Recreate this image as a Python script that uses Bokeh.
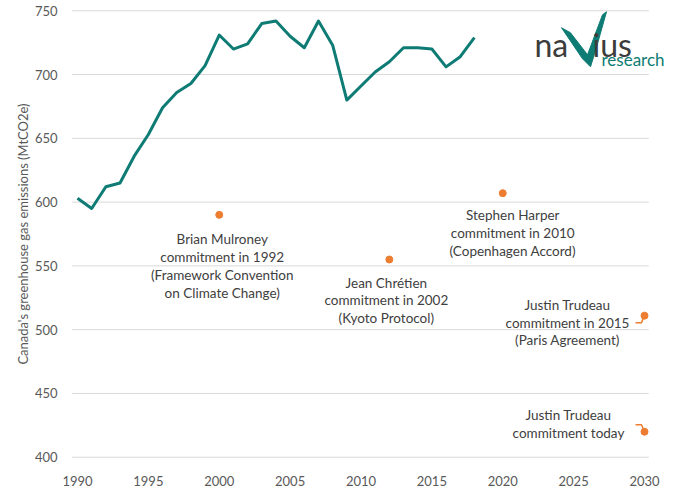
from bokeh.plotting import figure
from bokeh.models import Range1d, ColumnDataSource, Label, FixedTicker
from bokeh.core.properties import value
from bokeh.embed import file_html
from bokeh.resources import INLINE

# Emissions history (MtCO2e)
years = list(range(1990, 2019))
emissions = [603, 595, 612, 615, 636, 653, 674, 686, 693, 707,
             731, 720, 724, 740, 742, 730, 721, 742, 723, 680,
             691, 702, 710, 721, 721, 720, 706, 714, 729]

# Commitments
commit_year = [2000, 2012, 2020, 2030, 2030]
commit_value = [590, 555, 607, 511, 420]
commit_label = [
    "Brian Mulroney\ncommitment in 1992\n(Framework Convention\non Climate Change)",
    "Jean Chrétien\ncommitment in 2002\n(Kyoto Protocol)",
    "Stephen Harper\ncommitment in 2010\n(Copenhagen Accord)",
    "Justin Trudeau\ncommitment in 2015\n(Paris Agreement)",
    "Justin Trudeau\ncommitment today",
]
label_dx = [3, -3, 10, -77, -76]       # px offsets of label centre from dot
label_dy = [16, 15, 14, -19, -25]      # px offsets of label top from dot

x_ticks = [1990, 1995, 2000, 2005, 2010, 2015, 2020, 2025, 2030]
y_ticks = [400, 450, 500, 550, 600, 650, 700, 750]

TEAL = "#0e7c74"
ORANGE = "#ed7d31"
GREY_TXT = "#595959"
FONT = "Lato"

W, H = 678, 490
LEFT, TOP, BOTTOM = 71, 9, 32
PX_YEAR = 14.175          # pixels per year
X0 = 1990 - 6 / PX_YEAR
X1 = X0 + (W - LEFT) / PX_YEAR
Y0, Y1 = 399, 751
px_x = 1 / PX_YEAR
px_y = (Y1 - Y0) / (H - TOP - BOTTOM)

p = figure(width=W, height=H, output_backend="svg", toolbar_location=None,
           x_range=Range1d(X0, X1), y_range=Range1d(Y0, Y1),
           min_border_left=LEFT, min_border_right=0, min_border_top=TOP,
           min_border_bottom=BOTTOM)
p.outline_line_color = None
p.background_fill_color = "white"
p.border_fill_color = "white"

p.xgrid.visible = False
p.ygrid.visible = False
# horizontal gridlines, stopping just past 2030
p.segment(x0=[X0] * len(y_ticks), x1=[2030.3] * len(y_ticks), y0=y_ticks, y1=y_ticks,
          line_color="#d9d9d9", line_width=1)

p.xaxis.ticker = FixedTicker(ticks=x_ticks)
p.yaxis.ticker = FixedTicker(ticks=y_ticks)
for ax in (p.xaxis[0], p.yaxis[0]):
    ax.axis_line_color = None
    ax.major_tick_line_color = None
    ax.minor_tick_line_color = None
    ax.major_label_text_font = FONT
    ax.major_label_text_font_size = "13px"
    ax.major_label_text_color = GREY_TXT
p.xaxis.major_label_standoff = 11
p.yaxis.major_label_standoff = 8
p.yaxis.axis_label = "Canada's greenhouse gas emissions (MtCO2e)"
p.yaxis.axis_label_text_font = FONT
p.yaxis.axis_label_text_font_style = "normal"
p.yaxis.axis_label_text_font_size = "13px"
p.yaxis.axis_label_text_color = GREY_TXT
p.yaxis.axis_label_standoff = 1

# emissions line
p.line(years, emissions, line_color=TEAL, line_width=3, line_join="round")

# commitment dots and labels
src = ColumnDataSource(data=dict(x=commit_year, y=commit_value, label=commit_label,
                                 dx=label_dx, dy=label_dy))
p.scatter("x", "y", source=src, size=7, color=ORANGE)
p.text("x", "y", text="label", source=src, x_offset="dx", y_offset="dy",
       text_align="center", text_baseline="top", text_font=value(FONT),
       text_font_size="13.5px", text_color="#404040", text_line_height=1.12)

# small leader lines for the two Trudeau labels
for cy, cv, sgn in [(commit_year[3], commit_value[3], -1), (commit_year[4], commit_value[4], 1)]:
    p.line([cy - 9 * px_x, cy - 3 * px_x, cy - 1 * px_x],
           [cv + sgn * 7 * px_y, cv + sgn * 7 * px_y, cv + sgn * 2 * px_y],
           line_color=ORANGE, line_width=1.5)

# navius research logo
lx, ly = 1990 + (535 - 78) / PX_YEAR, 750 - 34 * px_y


def to_data(dx, dy):
    return lx + dx * px_x, ly - dy * px_y


chk = [(27, -17), (36, -12), (53, 10), (68, -30), (72, -33), (61, 6), (56, 22), (48, 14)]
p.patch([to_data(a, b)[0] for a, b in chk], [to_data(a, b)[1] for a, b in chk],
        color=TEAL, line_color=TEAL)
p.add_layout(Label(x=lx, y=ly, text="na", text_font=FONT, text_font_size="32px",
                   text_color="#3c3c3c", text_baseline="alphabetic"))
ix, iy = to_data(58, 0)
p.add_layout(Label(x=ix, y=iy, text="ius", text_font=FONT, text_font_size="32px",
                   text_color="#3c3c3c", text_baseline="alphabetic"))
rx, ry = to_data(67, 15)
p.add_layout(Label(x=rx, y=ry, text="research", text_font=FONT, text_font_size="17px",
                   text_color=TEAL, text_baseline="alphabetic"))

open("out.html", "w").write(file_html(p, INLINE))
